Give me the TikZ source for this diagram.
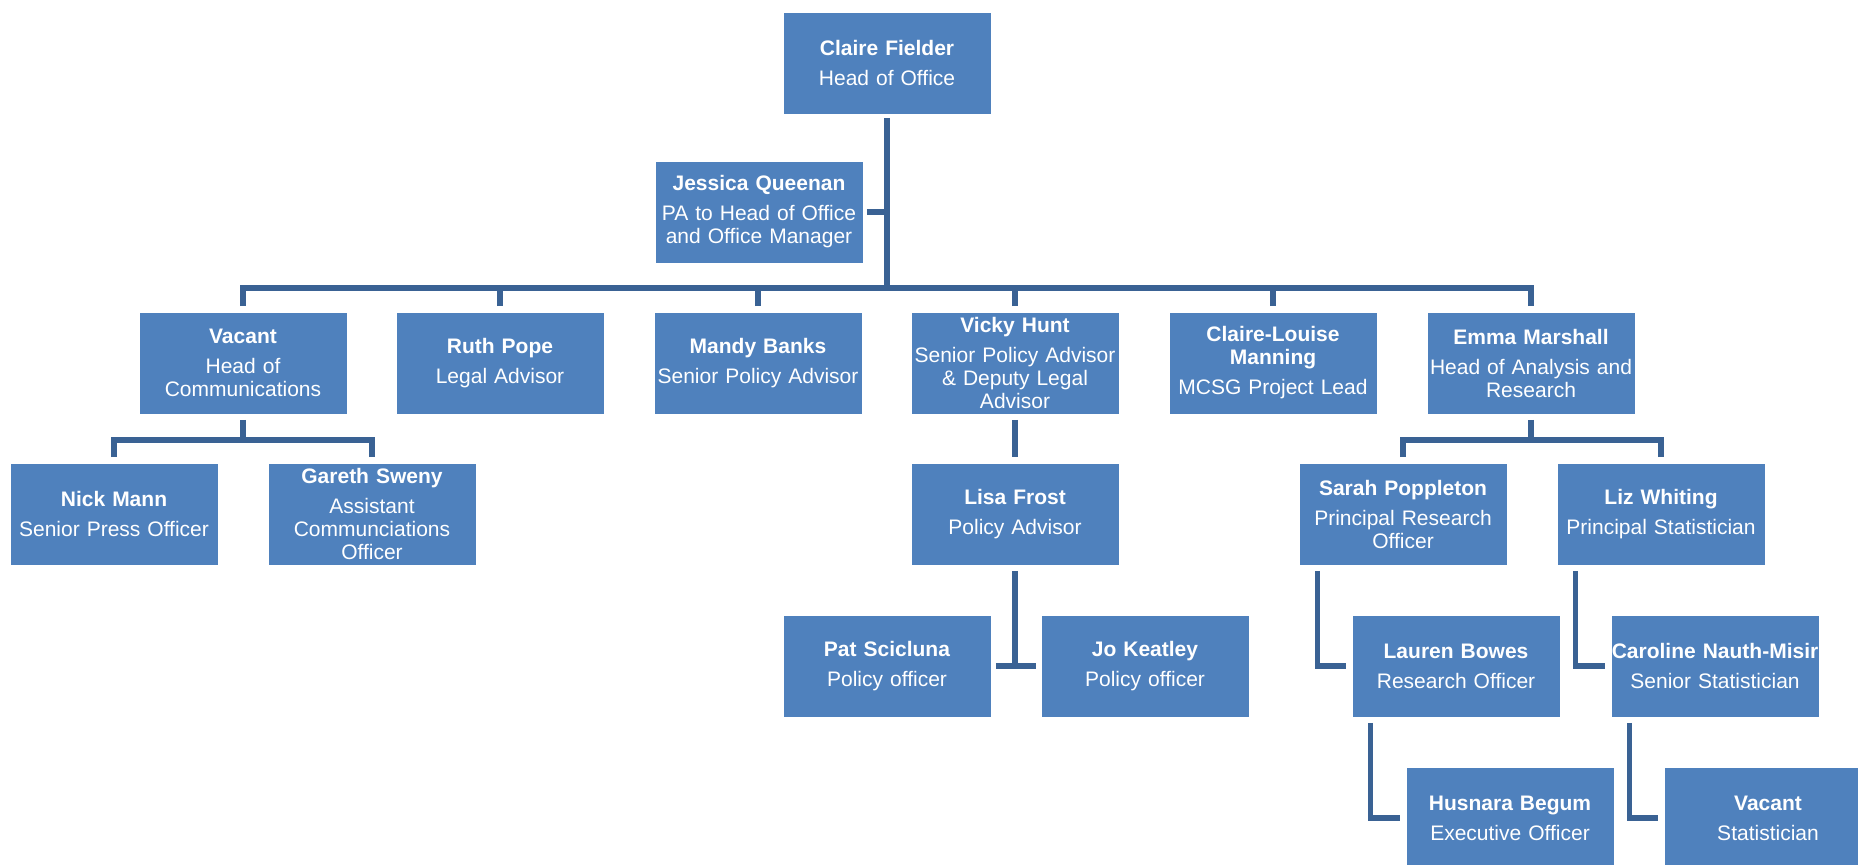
\documentclass[tikz,border=0pt]{standalone}
\usepackage{fontspec}
\setmainfont{Liberation Sans}
\usepackage{tikz}
\definecolor{postblue}{RGB}{79,129,189}
\definecolor{lineblue}{RGB}{58,98,148}
\newcommand{\post}[2]{\textbf{#1}\\[3.5pt]#2}

\begin{document}
\begin{tikzpicture}[x=0.5pt,y=-0.5pt,
  staffbox/.style={fill=postblue,text=white,text width=103.5pt,minimum height=50.5pt,
    inner xsep=0pt,inner ysep=0pt,align=center,font=\fontsize{10.5}{11.5}\selectfont},
  link/.style={draw=lineblue,line width=2.6pt}]
  \useasboundingbox (0,0) rectangle (1858,864);
  % top
  \node[staffbox] (fielder) at (887,63) {\post{Claire Fielder}{Head of Office}};
  \node[staffbox] (queenan) at (759,212) {\post{Jessica Queenan}{PA to Head of Office\\and Office Manager}};
  % second row
  \node[staffbox] (vacanthc) at (243,363) {\post{Vacant}{Head of\\Communications}};
  \node[staffbox] (pope) at (500,363) {\post{Ruth Pope}{Legal Advisor}};
  \node[staffbox] (banks) at (758,363) {\post{Mandy Banks}{Senior Policy Advisor}};
  \node[staffbox] (hunt) at (1015,363) {\post{Vicky Hunt}{Senior Policy Advisor\\\& Deputy Legal\\Advisor}};
  \node[staffbox] (manning) at (1273,363) {\textbf{Claire-Louise}\\\textbf{Manning}\\[3.5pt]MCSG Project Lead};
  \node[staffbox] (marshall) at (1531,363) {\post{Emma Marshall}{Head of Analysis and\\Research}};
  % third row
  \node[staffbox] (mann) at (114,514) {\post{Nick Mann}{Senior Press Officer}};
  \node[staffbox] (sweny) at (372,514) {\post{Gareth Sweny}{Assistant\\Communciations\\Officer}};
  \node[staffbox] (frost) at (1015,514) {\post{Lisa Frost}{Policy Advisor}};
  \node[staffbox] (poppleton) at (1403,514) {\post{Sarah Poppleton}{Principal Research\\Officer}};
  \node[staffbox] (whiting) at (1661,514) {\post{Liz Whiting}{Principal Statistician}};
  % fourth and fifth rows
  \node[staffbox] (scicluna) at (887,666) {\post{Pat Scicluna}{Policy officer}};
  \node[staffbox] (keatley) at (1145,666) {\post{Jo Keatley}{Policy officer}};
  \node[staffbox] (bowes) at (1456,666) {\post{Lauren Bowes}{Research Officer}};
  \node[staffbox] (nauth) at (1715,666) {\post{Caroline Nauth-Misir}{Senior Statistician}};
  \node[staffbox] (begum) at (1510,818) {\post{Husnara Begum}{Executive Officer}};
  \node[staffbox] (vacantst) at (1768,818) {\post{Vacant}{Statistician}};

  % connectors
  \coordinate (hub) at (887,288);
  \draw[link] ([yshift=-2pt]fielder.south) -- (hub);
  \draw[link] ([xshift=2pt]queenan.east) -- (queenan.east -| hub);
  \foreach \n in {vacanthc,pope,banks,hunt,manning,marshall} { \draw[link] ([yshift=3pt]\n.north) |- (hub); }
  \coordinate (commshub) at (243,440);
  \draw[link] ([yshift=-3pt]vacanthc.south) -- (commshub);
  \foreach \n in {mann,sweny} { \draw[link] ([yshift=3pt]\n.north) |- (commshub); }
  \draw[link] ([yshift=-3pt]hunt.south) -- ([yshift=3pt]frost.north);
  \draw[link] ([yshift=-3pt]frost.south) -- (frost.south |- scicluna.east);
  \draw[link] ([xshift=2.5pt]scicluna.east) -- ([xshift=-2.5pt]keatley.west);
  \coordinate (analysishub) at (1531,440);
  \draw[link] ([yshift=-3pt]marshall.south) -- (analysishub);
  \foreach \n in {poppleton,whiting} { \draw[link] ([yshift=3pt]\n.north) |- (analysishub); }
  \draw[link] ([xshift=9pt,yshift=-3pt]poppleton.south west) |- ([xshift=-3pt]bowes.west);
  \draw[link] ([xshift=9pt,yshift=-3pt]whiting.south west) |- ([xshift=-3pt]nauth.west);
  \draw[link] ([xshift=9pt,yshift=-3pt]bowes.south west) |- ([xshift=-3pt]begum.west);
  \draw[link] ([xshift=9pt,yshift=-3pt]nauth.south west) |- ([xshift=-3pt]vacantst.west);
\end{tikzpicture}
\end{document}
